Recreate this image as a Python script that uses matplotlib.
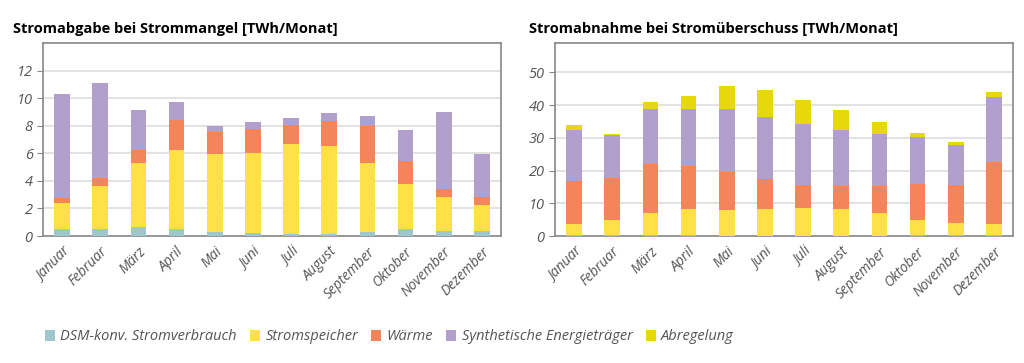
import matplotlib.pyplot as plt
import numpy as np

months = ['Januar', 'Februar', 'März', 'April', 'Mai', 'Juni', 'Juli',
          'August', 'September', 'Oktober', 'November', 'Dezember']

# Stromabgabe bei Strommangel (stacked segment values, TWh/Monat)
abgabe_dsm = [0.49, 0.49, 0.68, 0.49, 0.29, 0.19, 0.12, 0.12, 0.29, 0.49, 0.39, 0.39]
abgabe_speicher = [1.94, 3.11, 4.65, 5.72, 5.63, 5.82, 6.57, 6.38, 5.04, 3.28, 2.41, 1.85]
abgabe_waerme = [0.30, 0.61, 0.88, 2.24, 1.65, 1.76, 1.37, 1.85, 2.63, 1.66, 0.58, 0.56]
abgabe_synth = [7.57, 6.87, 2.92, 1.26, 0.39, 0.48, 0.48, 0.58, 0.78, 2.24, 5.65, 3.12]

# Stromabnahme bei Stromüberschuss
abnahme_dsm = [0.3, 0.3, 0.3, 0.3, 0.0, 0.0, 0.0, 0.0, 0.0, 0.3, 0.3, 0.3]
abnahme_speicher = [3.35, 4.57, 6.8, 8.0, 7.9, 8.3, 8.7, 8.3, 7.1, 4.57, 3.76, 3.35]
abnahme_waerme = [13.15, 12.98, 15.0, 13.0, 11.7, 9.1, 6.9, 6.9, 8.1, 11.13, 11.54, 18.95]
abnahme_synth = [15.7, 12.95, 16.8, 17.6, 19.3, 18.9, 18.7, 17.3, 16.0, 14.4, 12.2, 19.8]
abnahme_abregelung = [1.3, 0.4, 2.2, 4.0, 7.0, 8.3, 7.3, 6.0, 3.5, 1.2, 0.8, 1.7]

colors = {
    'DSM-konv. Stromverbrauch': '#9fc6cb',
    'Stromspeicher': '#ffe047',
    'Wärme': '#f4845a',
    'Synthetische Energieträger': '#b1a0cc',
    'Abregelung': '#e6d80a',
}

plt.rcParams['font.family'] = ['Open Sans', 'DejaVu Sans']

fig = plt.figure(figsize=(10.24, 3.63), dpi=100)
ax1 = fig.add_axes([43 / 1024, 1 - 236 / 363, 458 / 1024, 193 / 363])
ax2 = fig.add_axes([555 / 1024, 1 - 236 / 363, 458 / 1024, 193 / 363])

x = np.arange(len(months))
width = 0.41


def stacked(ax, series):
    bottom = np.zeros(len(months))
    handles = []
    for name, vals in series:
        vals = np.array(vals)
        h = ax.bar(x, vals, width, bottom=bottom, color=colors[name],
                   edgecolor='none', label=name, zorder=3)
        handles.append(h)
        bottom += vals
    return handles


def style(ax, ylim, ticks, title, title_x):
    ax.set_xlim(-0.5, len(months) - 0.5)
    ax.set_ylim(0, ylim)
    ax.set_yticks(ticks)
    ax.yaxis.grid(True, color='#dddddd', linewidth=1.2, zorder=0)
    ax.set_axisbelow(True)
    for s in ax.spines.values():
        s.set_color('#888888')
        s.set_linewidth(1.2)
    ax.set_xticks(x)
    ax.set_xticklabels(months, rotation=45, ha='right', rotation_mode='anchor',
                       style='italic', color='#555555', fontsize=10)
    ax.tick_params(axis='x', length=0, pad=6)
    ax.tick_params(axis='y', length=4, color='#888888', labelcolor='#555555',
                   labelsize=10.5)
    for t in ax.get_yticklabels():
        t.set_style('italic')
    ax.set_title(title, loc='left', fontweight='bold', fontsize=10.5,
                 x=title_x, pad=7)


handles = stacked(ax1, [('DSM-konv. Stromverbrauch', abgabe_dsm),
                        ('Stromspeicher', abgabe_speicher),
                        ('Wärme', abgabe_waerme),
                        ('Synthetische Energieträger', abgabe_synth)])
handles2 = stacked(ax2, [('DSM-konv. Stromverbrauch', abnahme_dsm),
                         ('Stromspeicher', abnahme_speicher),
                         ('Wärme', abnahme_waerme),
                         ('Synthetische Energieträger', abnahme_synth),
                         ('Abregelung', abnahme_abregelung)])

style(ax1, 14, range(0, 13, 2), 'Stromabgabe bei Strommangel [TWh/Monat]', -0.066)
style(ax2, 59, range(0, 51, 10), 'Stromabnahme bei Stromüberschuss [TWh/Monat]', -0.057)

leg = fig.legend(handles=handles2, loc='center left', bbox_to_anchor=(32 / 1024, 1 - 337 / 363),
                 ncol=5, frameon=False, fontsize=10.5, handlelength=0.7,
                 handleheight=0.7, handletextpad=0.35, columnspacing=0.9)
for t in leg.get_texts():
    t.set_style('italic')
    t.set_color('#555555')

fig.savefig('out.png', dpi=100)
